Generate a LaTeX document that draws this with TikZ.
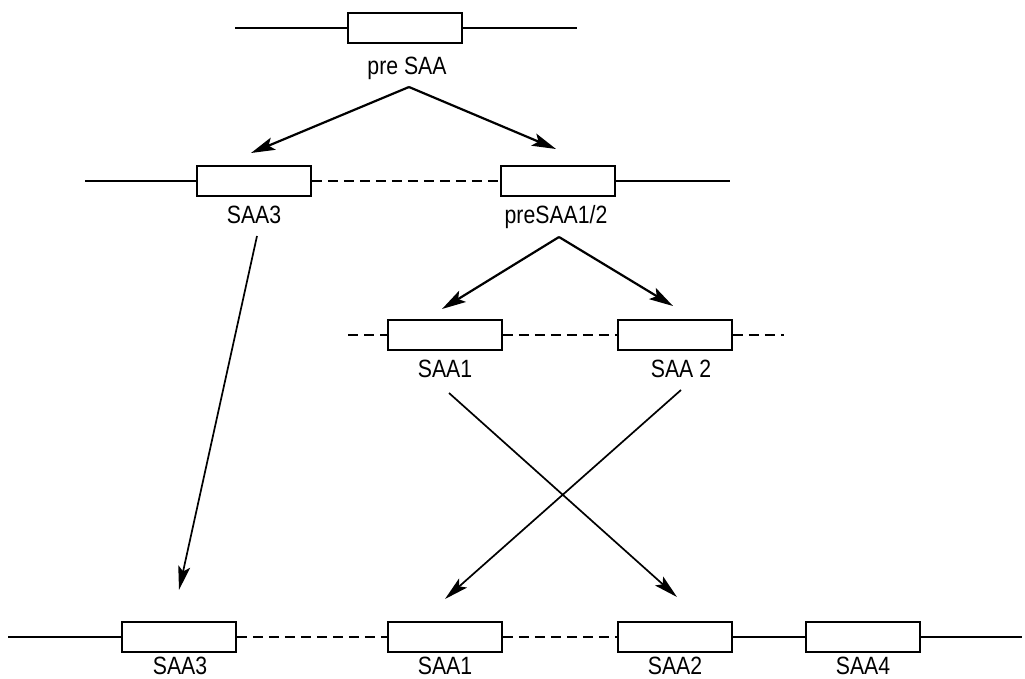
\documentclass[tikz,border=0pt]{standalone}
\usepackage{fontspec}
\setsansfont{Liberation Sans}[FakeStretch=0.85]
\usetikzlibrary{arrows.meta}

\begin{document}
\begin{tikzpicture}[
        x=1pt, y=-1pt,
        line width=1.9pt,
        font=\sffamily\fontsize{25}{29}\selectfont
    ]
    \tikzset{
        gene/.style = {rectangle, draw=black, fill=white, minimum width=114pt, minimum height=30pt, inner sep=0pt},
        genelbl/.style = {inner sep=0pt, anchor=base},
        edgen/.style = {-},
        edged/.style = {-, dash pattern=on 10pt off 6pt},
        edgea/.style = {-{Stealth[length=24pt,width=13pt,inset=5pt]}, line width=2.2pt},
        edgex/.style = {-{Stealth[length=24pt,width=12pt,inset=5pt]}, line width=1.7pt},
    }
    \useasboundingbox (0,0) rectangle (1025,679);
    % top: preSAA
    \node[gene] at (405,28) (presaa) {};
    \node[genelbl] at (407,75) (lpresaa) {pre SAA};
    \coordinate (l1) at (235,28);
    \coordinate (r1) at (577,28);
    \draw[edgen] (l1) edge (presaa);
    \draw[edgen] (presaa) edge (r1);
    %
    % SAA3 and preSAA1/2
    \node[gene] at (254,181) (saa3a) {};
    \node[gene] at (558,181) (presaab) {};
    \node[genelbl] at (254,224) (lsaa3a) {SAA3};
    \node[genelbl] at (556,224) (lpresaab) {preSAA1/2};
    \coordinate (l2) at (85,181);
    \coordinate (r2) at (730,181);
    \draw[edgen] (l2) edge (saa3a);
    \draw[edged] (saa3a) edge (presaab);
    \draw[edgen] (presaab) edge (r2);
    %
    % SAA1 and SAA2
    \node[gene] at (445,335) (saa1a) {};
    \node[gene] at (675,335) (saa2a) {};
    \node[genelbl] at (445,377) (lsaa1a) {SAA1};
    \node[genelbl] at (681,377) (lsaa2a) {SAA 2};
    \coordinate (l3) at (348,335);
    \coordinate (r3) at (784,335);
    \draw[edged] (l3) edge (saa1a);
    \draw[edged] (saa1a) edge (saa2a);
    \draw[edged] (saa2a) edge (r3);
    %
    % bottom row
    \node[gene] at (179,637) (saa3b) {};
    \node[gene] at (445,637) (saa1b) {};
    \node[gene] at (675,637) (saa2b) {};
    \node[gene] at (863,637) (saa4b) {};
    \node[genelbl] at (180,674) (lsaa3b) {SAA3};
    \node[genelbl] at (445,674) (lsaa1b) {SAA1};
    \node[genelbl] at (675,674) (lsaa2b) {SAA2};
    \node[genelbl] at (863,674) (lsaa4b) {SAA4};
    \coordinate (l4) at (8,637);
    \coordinate (r4) at (1022,637);
    \draw[edgen] (l4) edge (saa3b);
    \draw[edged] (saa3b) edge (saa1b);
    \draw[edged] (saa1b) edge (saa2b);
    \draw[edgen] (saa2b) edge (saa4b);
    \draw[edgen] (saa4b) edge (r4);
    %
    % arrows
    \coordinate (s1) at (409,87);
    \coordinate (t1) at (251,153);
    \coordinate (t2) at (556,149);
    \coordinate (s3) at (257,236);
    \coordinate (t3) at (179,590);
    \coordinate (s4) at (559,237);
    \coordinate (t4) at (442,309);
    \coordinate (t5) at (673,306);
    \coordinate (s6) at (449,393);
    \coordinate (t6) at (677,597);
    \coordinate (s7) at (681,390);
    \coordinate (t7) at (445,599);
    \draw[edgea] (s1) -- (t1);
    \draw[edgea] (s1) -- (t2);
    \draw[edgex] (s3) -- (t3);
    \draw[edgea] (s4) -- (t4);
    \draw[edgea] (s4) -- (t5);
    \draw[edgex] (s6) -- (t6);
    \draw[edgex] (s7) -- (t7);
\end{tikzpicture}
\end{document}
